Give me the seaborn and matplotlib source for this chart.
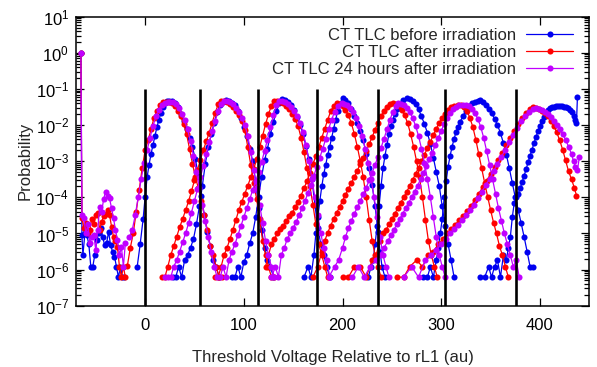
import numpy as np
import pandas as pd
import seaborn as sns
import matplotlib.pyplot as plt
from matplotlib.lines import Line2D
from matplotlib.ticker import LogLocator, NullFormatter, FixedLocator

# read reference levels (vertical black lines)
read_levels = [0, 56, 114, 174, 236, 304, 376]

series_names = ['CT TLC before irradiation', 'CT TLC after irradiation',
                'CT TLC 24 hours after irradiation']
series_colors = ['#0000f0', '#ff0000', '#c000ff']

# ---- before irradiation: one list per state (erase + 7 programmed), log10(probability)
before_x = [
    [-65, -64, -63, -61, -59, -57, -55, -53, -51, -49, -47, -45, -43, -41, -39, -37, -35, -33, -31, -29, -27, -25, -23, -21],
    [-8, -5, -2, 0, 2, 4, 6, 8, 10, 12, 14, 16, 18, 20, 22, 24, 27, 30, 33, 36, 39, 42, 45, 48, 51, 54, 57, 60, 63, 66, 69, 72, 75],
    [28, 31, 34, 37, 40, 43, 46, 49, 52, 55, 58, 61, 64, 67, 70, 73, 76, 79, 82, 85, 88, 91, 94, 97, 100, 103, 106, 109, 112, 115, 118, 121, 124, 127, 130],
    [88, 91, 94, 97, 100, 103, 106, 109, 112, 115, 118, 121, 124, 127, 130, 133, 136, 139, 142, 145, 148, 151, 154, 157, 160, 163, 166, 169, 172, 175, 178, 181, 184, 187],
    [161, 165, 168, 171, 173, 175, 177, 179, 181, 183, 185, 187, 189, 191, 193, 195, 197, 200, 203, 206, 209, 212, 215, 218, 221, 224, 227, 230, 233, 236, 238, 240, 243],
    [226, 229, 231, 233, 235, 237, 239, 241, 243, 245, 247, 249, 251, 253, 255, 258, 261, 265, 268, 271, 274, 277, 280, 283, 286, 289, 292, 295, 298, 301, 304, 307, 310, 313],
    [282, 286, 289, 292, 295, 297, 299, 301, 303, 305, 307, 309, 311, 313, 315, 317, 319, 322, 325, 328, 331, 334, 337, 339, 342, 345, 348, 351, 354, 357, 360, 363, 366, 369, 372, 375, 378, 381, 384, 387, 390, 393],
    [339, 344, 348, 351, 354, 357, 360, 363, 366, 368, 370, 372, 374, 376, 378, 380, 382, 384, 386, 388, 390, 392, 394, 396, 398, 400, 402, 404, 406, 408, 410, 412, 414, 416, 418, 420, 422, 424, 426, 428, 430, 432, 434, 436, 437, 438],
]
before_lp = [
    [0.0, -5.05, -5.6, -5.0, -5.05, -5.3, -5.92, -5.92, -5.6, -5.18, -5.0, -4.85, -5.1, -5.32, -5.27, -4.95, -5.32, -5.5, -5.64, -5.92, -6.21, -5.92, -6.21, -6.21],
    [-5.92, -5.3, -4.6, -4.0, -3.45, -3.1, -2.8, -2.55, -2.3, -2.05, -1.85, -1.66, -1.5, -1.4, -1.34, -1.32, -1.33, -1.38, -1.5, -1.68, -1.9, -2.12, -2.35, -2.62, -2.95, -3.4, -3.95, -4.5, -4.95, -5.35, -5.74, -5.92, -6.21],
    [-6.21, -6.21, -5.92, -6.21, -5.74, -5.6, -5.4, -5.15, -4.75, -4.25, -3.68, -3.07, -2.6, -2.26, -1.93, -1.64, -1.45, -1.35, -1.31, -1.33, -1.38, -1.45, -1.6, -1.8, -2.05, -2.3, -2.65, -3.0, -3.55, -4.3, -4.9, -5.4, -5.74, -5.92, -6.21],
    [-6.21, -6.21, -5.92, -6.21, -5.8, -5.6, -5.27, -5.0, -4.55, -4.0, -3.43, -2.98, -2.65, -2.25, -1.92, -1.62, -1.4, -1.29, -1.31, -1.36, -1.44, -1.58, -1.78, -2.0, -2.26, -2.58, -2.95, -3.5, -4.2, -4.85, -5.3, -5.6, -5.92, -6.21],
    [-6.21, -5.92, -6.21, -5.6, -5.0, -4.55, -4.1, -3.7, -3.35, -3.1, -2.82, -2.6, -2.35, -2.1, -1.86, -1.62, -1.42, -1.26, -1.3, -1.39, -1.55, -1.74, -1.93, -2.16, -2.42, -2.8, -3.2, -3.65, -4.25, -4.95, -5.5, -5.92, -6.21],
    [-6.21, -5.92, -5.74, -5.3, -4.8, -4.25, -3.7, -3.2, -2.85, -2.55, -2.25, -2.02, -1.85, -1.7, -1.56, -1.42, -1.31, -1.26, -1.28, -1.34, -1.42, -1.56, -1.76, -1.97, -2.22, -2.52, -2.9, -3.3, -3.68, -4.25, -4.8, -5.3, -5.74, -6.21],
    [-6.21, -6.21, -5.92, -6.21, -5.74, -5.4, -5.0, -4.6, -4.0, -3.55, -3.15, -2.85, -2.6, -2.38, -2.2, -2.05, -1.92, -1.75, -1.6, -1.48, -1.4, -1.35, -1.32, -1.31, -1.36, -1.44, -1.55, -1.67, -1.82, -2.0, -2.22, -2.5, -2.82, -3.2, -3.6, -4.0, -4.35, -4.72, -5.1, -5.5, -5.92, -5.92],
    [-6.21, -6.21, -5.92, -6.21, -5.92, -5.74, -6.21, -5.6, -5.74, -5.4, -5.1, -4.55, -4.15, -3.98, -3.9, -3.75, -3.58, -3.4, -3.22, -3.03, -2.85, -2.68, -2.5, -2.33, -2.17, -2.02, -1.9, -1.78, -1.66, -1.59, -1.54, -1.51, -1.49, -1.48, -1.47, -1.47, -1.48, -1.49, -1.51, -1.54, -1.58, -1.64, -1.74, -1.86, -1.95, -1.21],
]

# ---- right after irradiation
after_x = [
    [-65, -64, -62, -60, -58, -56, -54, -52, -50, -48, -46, -44, -42, -40, -38, -36, -34, -32, -30, -28, -26, -24, -22, -20],
    [-18, -15, -12, -9, -6, -3, 0, 3, 6, 9, 12, 15, 18, 21, 24, 27, 30, 33, 36, 39, 42, 45, 48, 51, 54, 57, 60, 63, 66, 69, 72, 75, 78],
    [17, 20, 23, 26, 29, 32, 35, 38, 41, 44, 47, 50, 53, 56, 59, 62, 65, 68, 71, 74, 77, 80, 83, 86, 89, 92, 95, 98, 101, 104, 107, 110, 113, 116, 119, 122, 125, 128, 131],
    [71, 74, 77, 80, 83, 86, 89, 92, 95, 98, 101, 104, 107, 110, 113, 116, 119, 122, 125, 128, 131, 134, 137, 140, 143, 146, 149, 152, 155, 158, 161, 164, 167, 170, 173, 176, 179, 182, 185],
    [122, 125, 128, 131, 134, 137, 140, 143, 146, 149, 152, 155, 158, 161, 164, 167, 170, 173, 176, 179, 182, 185, 188, 191, 194, 197, 200, 203, 206, 209, 212, 215, 218, 221, 224, 227, 230, 233, 236, 239],
    [170, 175, 179, 182, 185, 188, 191, 194, 197, 200, 203, 206, 209, 212, 215, 218, 221, 224, 227, 230, 233, 236, 239, 242, 245, 248, 251, 254, 257, 260, 263, 266, 269, 272, 275, 278, 281, 284, 287, 290, 293, 296],
    [200, 206, 212, 218, 224, 230, 234, 238, 241, 244, 247, 250, 253, 256, 259, 262, 265, 268, 271, 274, 277, 280, 283, 286, 289, 292, 295, 298, 301, 304, 307, 310, 313, 317, 320, 323, 326, 329, 332, 335, 338, 341, 344, 347, 350, 353, 356, 359, 362, 365, 368],
    [255, 262, 268, 275, 281, 287, 292, 297, 302, 306, 310, 314, 318, 322, 326, 330, 334, 338, 342, 346, 350, 354, 358, 362, 366, 370, 374, 378, 382, 386, 390, 393, 396, 399, 402, 405, 408, 411, 414, 417, 420, 423, 426, 429, 432, 435, 437],
]
after_lp = [
    [0.0, -4.58, -4.85, -4.72, -5.0, -4.9, -4.6, -4.75, -4.5, -4.44, -4.9, -4.67, -4.53, -4.45, -4.35, -4.49, -4.81, -5.09, -5.2, -5.37, -5.92, -6.21, -5.92, -6.21],
    [-5.9, -5.4, -5.0, -4.4, -3.8, -3.2, -2.7, -2.42, -2.12, -1.8, -1.6, -1.45, -1.37, -1.35, -1.36, -1.4, -1.48, -1.6, -1.76, -1.97, -2.25, -2.65, -3.07, -3.45, -3.75, -4.1, -4.5, -4.9, -5.35, -5.6, -5.92, -6.21, -6.21],
    [-6.21, -6.21, -5.92, -5.6, -5.35, -5.09, -4.83, -4.6, -4.36, -4.11, -3.83, -3.53, -3.25, -2.96, -2.69, -2.45, -2.21, -1.93, -1.66, -1.43, -1.33, -1.34, -1.37, -1.42, -1.5, -1.6, -1.73, -1.9, -2.15, -2.6, -3.1, -3.6, -4.05, -4.6, -5.2, -5.6, -5.92, -6.21, -6.21],
    [-6.21, -6.21, -5.92, -5.6, -5.4, -5.15, -4.9, -4.62, -4.35, -4.12, -3.9, -3.68, -3.45, -3.22, -2.95, -2.62, -2.3, -1.98, -1.7, -1.46, -1.33, -1.34, -1.36, -1.4, -1.47, -1.56, -1.68, -1.83, -2.03, -2.35, -2.75, -3.2, -3.7, -4.2, -4.75, -5.3, -5.6, -5.92, -6.21],
    [-5.92, -5.6, -5.3, -5.15, -5.0, -4.88, -4.78, -4.65, -4.52, -4.42, -4.28, -4.12, -3.95, -3.75, -3.55, -3.32, -3.08, -2.86, -2.6, -2.35, -2.1, -1.85, -1.62, -1.47, -1.40, -1.42, -1.48, -1.58, -1.73, -1.95, -2.25, -2.6, -3.0, -3.45, -4.0, -4.62, -5.2, -5.6, -5.92, -6.21],
    [-6.21, -5.92, -5.5, -5.2, -4.98, -4.78, -4.6, -4.43, -4.27, -4.1, -3.93, -3.76, -3.6, -3.43, -3.26, -3.08, -2.9, -2.72, -2.53, -2.33, -2.13, -1.93, -1.76, -1.61, -1.5, -1.43, -1.40, -1.42, -1.48, -1.58, -1.73, -1.95, -2.25, -2.6, -3.0, -3.45, -4.0, -4.62, -5.2, -5.6, -5.92, -6.21],
    [-6.21, -6.21, -5.92, -5.92, -6.21, -5.74, -5.6, -5.2, -5.0, -4.9, -4.75, -4.6, -4.45, -4.3, -4.15, -4.0, -3.85, -3.68, -3.52, -3.35, -3.18, -3.0, -2.82, -2.64, -2.46, -2.28, -2.1, -1.94, -1.8, -1.68, -1.58, -1.51, -1.47, -1.44, -1.45, -1.49, -1.6, -1.8, -2.05, -2.4, -2.8, -3.2, -3.6, -3.98, -4.35, -4.7, -5.0, -5.35, -5.6, -5.92, -6.21],
    [-6.21, -6.21, -5.92, -5.74, -5.92, -5.6, -5.5, -5.3, -5.15, -5.0, -4.88, -4.76, -4.64, -4.52, -4.38, -4.24, -4.08, -3.9, -3.72, -3.54, -3.35, -3.16, -2.96, -2.76, -2.56, -2.36, -2.16, -1.97, -1.8, -1.66, -1.55, -1.51, -1.52, -1.55, -1.6, -1.67, -1.76, -1.88, -2.02, -2.2, -2.42, -2.68, -2.98, -3.28, -3.5, -3.75, -3.95],
]

# ---- 24 hours after irradiation
later_x = [
    [-65, -64, -62, -60, -58, -56, -54, -52, -50, -48, -46, -44, -42, -40, -38, -36, -34, -32, -30, -28, -26, -24, -22, -20],
    [-16, -13, -10, -7, -4, -1, 2, 5, 8, 11, 14, 17, 20, 23, 25, 28, 31, 34, 37, 40, 43, 46, 49, 52, 55, 58, 61, 64, 67, 70, 73],
    [20, 23, 26, 29, 32, 35, 38, 41, 44, 47, 50, 53, 56, 59, 62, 65, 68, 71, 74, 77, 80, 83, 86, 89, 92, 95, 98, 101, 104, 107, 110, 113, 116, 119, 122, 125, 128, 131],
    [76, 79, 82, 85, 88, 91, 94, 97, 100, 103, 106, 109, 112, 115, 118, 121, 124, 127, 130, 133, 136, 139, 142, 145, 148, 151, 154, 157, 160, 163, 166, 169, 172, 175, 178, 181, 184, 187],
    [128, 132, 135, 138, 141, 144, 147, 150, 153, 156, 159, 162, 165, 168, 171, 174, 177, 180, 183, 186, 189, 192, 195, 199, 202, 205, 208, 211, 214, 217, 220, 223, 226, 229, 232, 235, 238, 241, 244, 247],
    [186, 192, 196, 200, 203, 206, 209, 212, 215, 218, 221, 224, 227, 230, 233, 236, 239, 242, 245, 248, 251, 254, 256, 259, 262, 265, 268, 271, 274, 277, 280, 283, 286, 289, 292, 295, 298, 301, 304],
    [210, 216, 222, 228, 234, 238, 242, 246, 249, 252, 255, 258, 261, 264, 267, 270, 273, 276, 279, 282, 285, 288, 291, 294, 297, 300, 303, 306, 309, 312, 315, 318, 322, 325, 328, 331, 334, 337, 340, 343, 346, 349, 352, 355, 358, 361, 364, 367, 370, 373, 376, 379],
    [262, 270, 277, 284, 290, 295, 300, 305, 309, 313, 317, 321, 325, 329, 333, 337, 341, 345, 349, 353, 357, 361, 365, 369, 373, 377, 381, 385, 389, 393, 396, 399, 402, 405, 408, 411, 414, 417, 420, 423, 426, 429, 432, 434, 436, 438, 440],
]
later_lp = [
    [0.0, -4.49, -4.58, -5.0, -4.75, -5.27, -5.1, -5.04, -5.46, -4.9, -4.26, -4.4, -4.05, -3.84, -3.95, -4.03, -4.3, -4.58, -4.9, -5.18, -5.6, -5.37, -5.92, -5.27],
    [-5.1, -4.9, -4.5, -4.0, -3.5, -3.05, -2.7, -2.35, -2.02, -1.76, -1.57, -1.45, -1.38, -1.35, -1.35, -1.37, -1.43, -1.53, -1.68, -1.87, -2.12, -2.45, -2.85, -3.3, -3.75, -4.2, -4.65, -5.1, -5.5, -5.92, -6.21],
    [-6.21, -6.21, -6.21, -5.92, -5.74, -5.5, -5.25, -5.0, -4.72, -4.42, -4.1, -3.78, -3.45, -3.12, -2.8, -2.48, -2.17, -1.88, -1.62, -1.42, -1.33, -1.34, -1.37, -1.43, -1.52, -1.64, -1.8, -2.0, -2.3, -2.75, -3.25, -3.75, -4.2, -4.7, -5.2, -5.6, -5.92, -6.21],
    [-6.21, -5.92, -6.21, -5.74, -5.5, -5.3, -5.05, -4.8, -4.55, -4.3, -4.05, -3.8, -3.55, -3.3, -3.02, -2.72, -2.4, -2.05, -1.72, -1.45, -1.33, -1.34, -1.37, -1.42, -1.5, -1.61, -1.75, -1.94, -2.2, -2.55, -3.0, -3.5, -4.0, -4.5, -5.0, -5.4, -5.74, -6.21],
    [-6.21, -5.92, -6.21, -5.6, -5.4, -5.15, -5.0, -4.85, -4.68, -4.5, -4.3, -4.1, -3.88, -3.65, -3.4, -3.15, -2.9, -2.65, -2.38, -2.1, -1.85, -1.63, -1.48, -1.40, -1.41, -1.45, -1.52, -1.63, -1.8, -2.02, -2.3, -2.65, -3.05, -3.5, -4.0, -4.55, -5.1, -5.6, -5.92, -6.21],
    [-6.21, -5.92, -5.74, -5.4, -5.1, -4.85, -4.65, -4.45, -4.28, -4.1, -3.92, -3.73, -3.53, -3.32, -3.1, -2.87, -2.63, -2.38, -2.12, -1.86, -1.63, -1.47, -1.40, -1.41, -1.45, -1.52, -1.63, -1.8, -2.02, -2.3, -2.65, -3.05, -3.5, -4.0, -4.55, -5.1, -5.6, -5.92, -6.21],
    [-6.21, -5.92, -6.21, -5.92, -5.74, -5.6, -5.4, -5.2, -5.05, -4.9, -4.75, -4.6, -4.45, -4.3, -4.15, -4.0, -3.84, -3.68, -3.5, -3.32, -3.14, -2.95, -2.76, -2.56, -2.36, -2.16, -1.97, -1.8, -1.66, -1.55, -1.49, -1.45, -1.44, -1.45, -1.48, -1.55, -1.66, -1.82, -2.05, -2.35, -2.72, -3.1, -3.5, -3.9, -4.3, -4.65, -5.0, -5.3, -5.6, -5.92, -5.74, -6.21],
    [-6.21, -5.92, -6.21, -5.74, -5.6, -5.45, -5.3, -5.15, -5.0, -4.88, -4.76, -4.64, -4.5, -4.36, -4.2, -4.03, -3.85, -3.67, -3.48, -3.28, -3.08, -2.88, -2.68, -2.47, -2.27, -2.08, -1.9, -1.75, -1.63, -1.56, -1.54, -1.55, -1.58, -1.63, -1.7, -1.79, -1.89, -1.99, -2.12, -2.26, -2.4, -2.6, -2.8, -3.0, -3.15, -3.24, -2.88],
]

# ---- build one long table
frames = []
for name, xs_all, lp_all in zip(series_names, [before_x, after_x, later_x],
                                [before_lp, after_lp, later_lp]):
    for k, (xs, lps) in enumerate(zip(xs_all, lp_all)):
        d = pd.DataFrame({'x': xs, 'logp': lps})
        d['series'] = name
        d['state'] = k
        frames.append(d)
df = pd.concat(frames, ignore_index=True)
df['prob'] = 10.0 ** df['logp']

sns.set_theme(style='ticks')
plt.rcParams['font.family'] = ['Liberation Sans', 'DejaVu Sans']
plt.rcParams['axes.linewidth'] = 1.1
fs = 12
msize = 4.4

fig = plt.figure(figsize=(5.97, 3.67), dpi=100)
ax = fig.add_axes([0.1273, 0.167, 0.8598, 0.7875])

sns.lineplot(data=df, x='x', y='prob', hue='series', hue_order=series_names,
             palette=series_colors, units='state', estimator=None, sort=False,
             marker='o', markersize=msize, markeredgewidth=0, linewidth=0.9,
             legend=False, ax=ax)

ax.vlines(read_levels, 1e-7, 1e-1, colors='black', linewidth=1.9, zorder=5)

ax.set_yscale('log')
ax.set_ylim(1e-7, 1e1)
ax.set_xlim(-70, 450)
ax.xaxis.set_major_locator(FixedLocator([0, 100, 200, 300, 400]))
ax.yaxis.set_major_locator(LogLocator(base=10, numticks=20))
ax.yaxis.set_minor_locator(LogLocator(base=10, subs=np.arange(2, 10), numticks=20))
ax.yaxis.set_minor_formatter(NullFormatter())
ax.tick_params(which='both', direction='in', top=True, right=True, colors='black',
               labelsize=fs, width=0.9)
ax.tick_params(which='major', length=6)
ax.tick_params(which='minor', length=3.5)
ax.tick_params(axis='x', pad=9)
ax.tick_params(axis='y', pad=5)
for s in ax.spines.values():
    s.set_color('black')

ax.set_xlabel('Threshold Voltage Relative to rL1 (au)', fontsize=fs, labelpad=12)
ax.set_ylabel('Probability', fontsize=fs, labelpad=2)

handles = [Line2D([], [], color=c, marker='o', markersize=msize, markeredgewidth=0, lw=0.9)
           for c in series_colors]
ax.legend(handles, series_names, loc='upper right', bbox_to_anchor=(0.988, 0.995),
          frameon=False, markerfirst=False, handlelength=2.8, handletextpad=0.6,
          labelspacing=0.12, fontsize=fs, borderaxespad=0.2)

fig.savefig('out.png', dpi=100)
